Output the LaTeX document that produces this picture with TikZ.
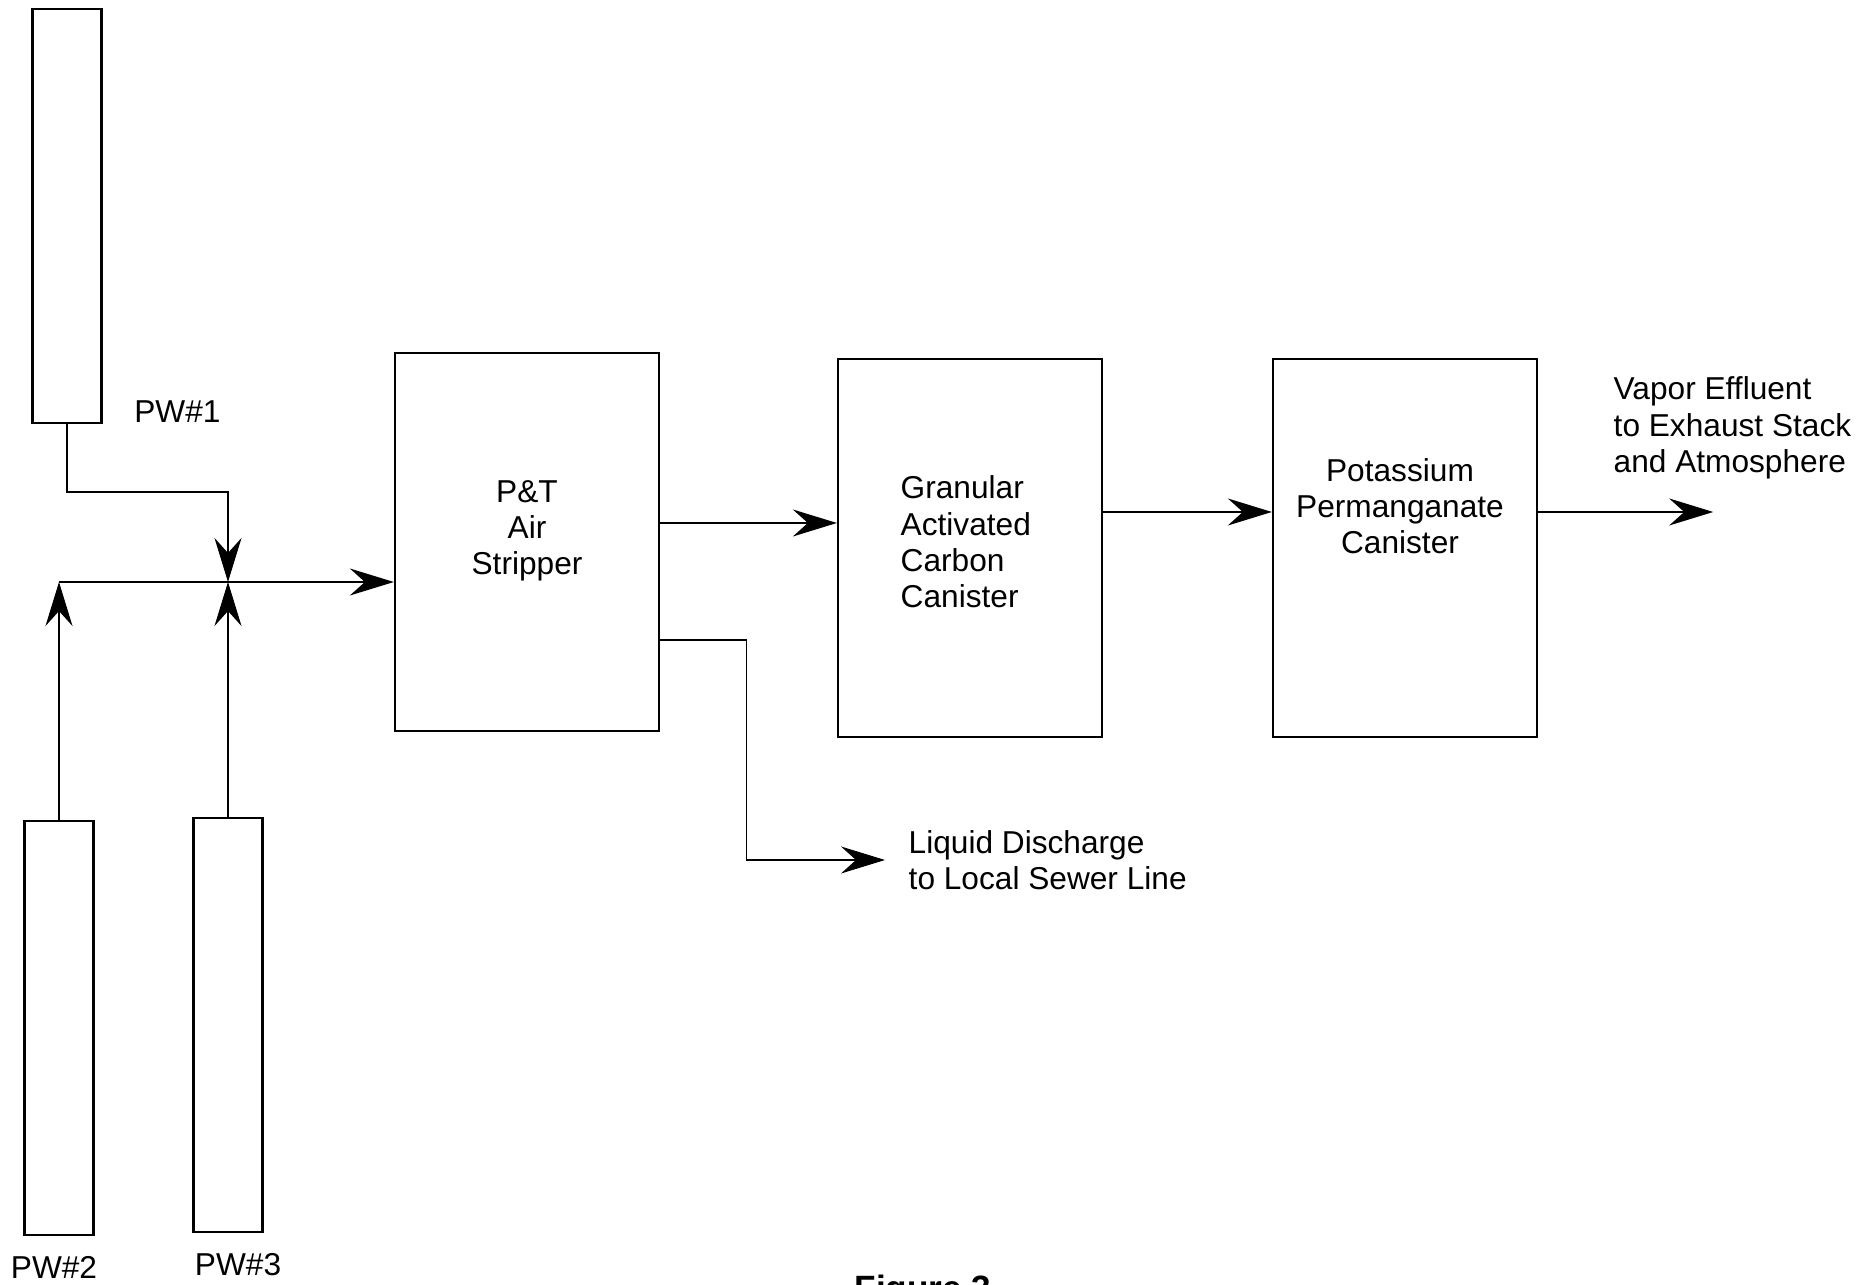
\documentclass[tikz,border=0pt]{standalone}
\usepackage{fontspec}
\setmainfont{Liberation Sans}
\usetikzlibrary{arrows.meta, positioning}

\begin{document}
\begin{tikzpicture}[x=0.01cm, y=-0.01cm,
    well/.style={draw, rectangle, line width=0.6pt, inner sep=0pt, minimum width=0.69cm, minimum height=4.14cm},
    unit/.style={draw, rectangle, line width=0.6pt, inner sep=0pt, minimum width=2.64cm, minimum height=3.77cm},
    pipe/.style={line width=0.35pt, -{Stealth[length=0.44cm, width=0.27cm, inset=0.15cm]}},
    tag/.style={inner sep=0pt, font=\fontsize{9}{10.3}\selectfont}]
        \useasboundingbox (0,0) rectangle (1863,1285);
        % Pumping wells
        \node[well] (pw1) at (67,216) {};
        \node[well] (pw2) at (59,1028) {};
        \node[well] (pw3) at (228,1025) {};
        \node[tag, right=0.31cm of pw1.south east, yshift=0.13cm] (pw1lbl) {PW\#1};
        \node[tag, below=0.2cm of pw2, xshift=-0.05cm] (pw2lbl) {PW\#2};
        \node[tag, below=0.2cm of pw3, xshift=0.1cm] (pw3lbl) {PW\#3};
        
        % Treatment units
        \node[unit] (stripper) at (527,542) {};
        \node[unit] (gac) at (970,548) {};
        \node[unit] (kmno) at (1405,548) {};
        \node[tag, align=center] (striptext) at (527,531) {P\&T\\Air\\Stripper};
        \node[tag, align=left, anchor=west] (gactext) at (900,542) {Granular\\Activated\\Carbon\\Canister};
        \node[tag, align=center] (kmnotext) at (1400,506) {Potassium\\Permanganate\\Canister};
        
        % Piping
        \coordinate (junc) at (228,582);
        \coordinate (elbow) at (228,492);
        \coordinate (inlet) at (pw2.north |- junc);
        \coordinate (gasout) at ([yshift=0.19cm]stripper.east);
        \coordinate (drain) at ([yshift=-0.98cm]stripper.east);
        \coordinate (sewer) at (885,860);
        \coordinate (gacout) at ([yshift=0.36cm]gac.east);
        \coordinate (kmnoout) at ([yshift=0.36cm]kmno.east);
        \coordinate (vent) at ([xshift=1.75cm]kmnoout);
        
        \draw[pipe] (pw1.south) |- (elbow) -- (junc);
        \draw[pipe] (pw2.north) -- (inlet);
        \draw[pipe] (pw3.north) -- (junc);
        \draw[pipe] (inlet) -- (inlet -| stripper.west);
        \draw[pipe] (gasout) -- (gasout -| gac.west);
        \draw[pipe] (drain) -- ++(86,0) |- (sewer);
        \draw[pipe] (gacout) -- (gacout -| kmno.west);
        \draw[pipe] (kmnoout) -- (vent);
        
        \node[tag, align=left, right=0.23cm of sewer] (sewerlbl) {Liquid Discharge\\to Local Sewer Line};
        \node[tag, align=left, anchor=west] (ventlbl) at (1613,428) {Vapor Effluent\\to Exhaust Stack\\and Atmosphere};
        \node[inner sep=0pt, anchor=north, font=\bfseries\fontsize{10}{12}\selectfont] (caption) at (923,1274) {Figure 3};
\end{tikzpicture}
\end{document}
